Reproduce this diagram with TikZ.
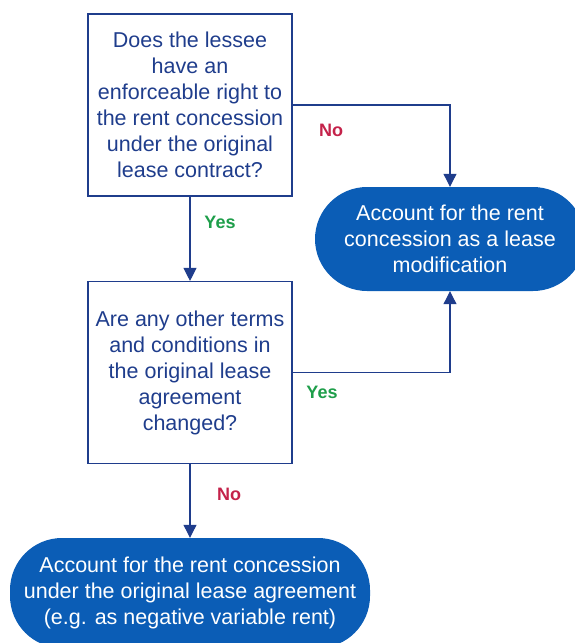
\documentclass[tikz,border=0pt]{standalone}
\usepackage{fontspec}
\setmainfont{Liberation Sans}
\usetikzlibrary{arrows.meta}
\definecolor{navy}{HTML}{1F3D8C}
\definecolor{termblue}{HTML}{0B5DB6}
\definecolor{nored}{HTML}{C4224A}
\definecolor{yesgreen}{HTML}{1E9E4A}
\begin{document}
\begin{tikzpicture}[x=1pt,y=-1pt,
 qbox/.style={draw=navy,line width=1.1pt,minimum width=204pt,minimum height=182pt,inner sep=0pt,align=center,text=navy,font=\fontsize{21.5}{26}\selectfont},
 term/.style={fill=termblue,rounded corners=52pt,inner sep=0pt,align=center,text=white,font=\fontsize{21.5}{26}\selectfont},
 lab/.style={font=\fontsize{18}{20}\selectfont\bfseries},
 arr/.style={draw=navy,line width=1.1pt,-{Triangle[length=13pt,width=13pt]}}]
\useasboundingbox(0,0)rectangle(574,643);
\node[qbox](qright)at(190,105){Does the lessee\\have an\\enforceable right to\\the rent concession\\under the original\\lease contract?};
\node[qbox](qterms)at(190,372.5){Are any other terms\\and conditions in\\the original lease\\agreement\\changed?};
\node[term,minimum width=270pt,minimum height=104pt](modif)at(450,239){Account for the rent\\concession as a lease\\modification};
\node[term,minimum width=360pt,minimum height=110pt](orig)at(190,593){Account for the rent concession\\under the original lease agreement\\(e.g. as negative variable rent)};
\draw[arr](qright.east)-|(modif.north);\draw[arr](qright.south)--(qterms.north);
\draw[arr](qterms.east)-|(modif.south);\draw[arr](qterms.south)--(orig.north);
\node[lab,text=nored](no1)at(331,130){No};\node[lab,text=yesgreen](yes1)at(220,222){Yes};
\node[lab,text=yesgreen](yes2)at(322,392){Yes};\node[lab,text=nored](no2)at(229,494){No};
\end{tikzpicture}
\end{document}
